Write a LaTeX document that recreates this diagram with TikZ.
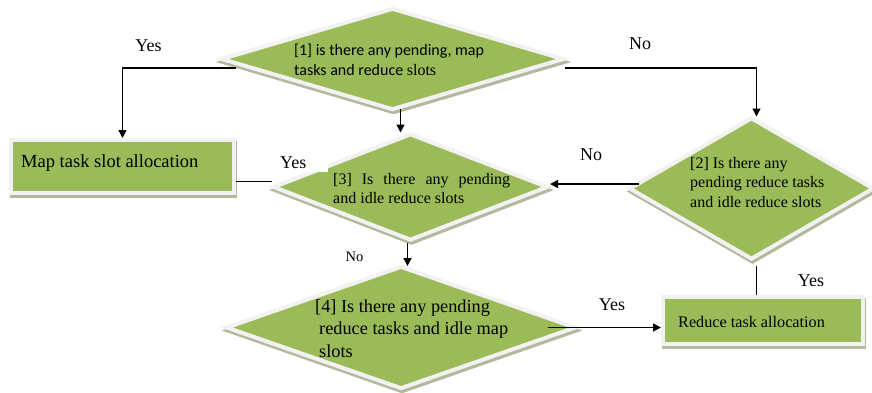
\documentclass[tikz,border=0pt]{standalone}
\usepackage{fontspec}
\setmainfont{Liberation Serif}
\newfontfamily\calibrilike{Carlito}
\usetikzlibrary{calc,shapes.geometric,arrows.meta}

\definecolor{leaf}{HTML}{9BBB59}
\definecolor{rim}{HTML}{F2F2F2}
\definecolor{shade}{HTML}{B3B89E}

\tikzset{
  panel/.style={fill=leaf, draw=rim, line width=4pt, inner sep=0pt,
    preaction={fill=shade, draw=shade, line width=4pt,
               transform canvas={shift={(1pt,-3pt)}}}},
  decision/.style={panel, shape=diamond},
  action/.style={panel, shape=rectangle},
  flow/.style={draw=black, line width=1.3pt},
  arrow/.style={flow, -{Triangle[length=8pt,width=8pt]}},
  lbl/.style={font=\fontsize{18}{20}\selectfont, anchor=base, inner sep=0pt},
  txt/.style={anchor=base west, inner sep=0pt, align=left},
}

\begin{document}
\begin{tikzpicture}[x=1pt,y=-1pt]
\useasboundingbox (0,0) rectangle (872,392);

% decision diamonds and action boxes
\node[decision, minimum width=343pt, minimum height=102pt] (d1) at (392.5,59) {};
\node[decision, minimum width=245pt, minimum height=142pt] (d2) at (751.5,188.5) {};
\node[decision, minimum width=275pt, minimum height=107pt] (d3) at (410.5,187) {};
\node[decision, minimum width=350pt, minimum height=123pt] (d4) at (401,327.5) {};
\node[action, minimum width=223pt, minimum height=53pt] (map) at (122.5,166.5) {};
\node[action, minimum width=200pt, minimum height=47pt] (reduce) at (763,320.5) {};

% texts inside the shapes (anchored at the baseline of their last line)
\node[txt, font=\calibrilike\fontsize{16}{20}\selectfont] (t1) at (294,75)
  {[1] is there any pending, map\\tasks and reduce {\rmfamily slots}};
\node[txt, font=\fontsize{16}{19.5}\selectfont] (t2) at (690,207)
  {[2] Is there any\\pending reduce tasks\\and idle reduce slots};
\node[txt, font=\fontsize{16}{19}\selectfont] (t3) at (333,203)
  {\makebox[177pt][s]{[3] Is there any pending}\\and idle reduce slots};
\node[txt, font=\fontsize{18.3}{22.5}\selectfont] (t4) at (315,357)
  {[4] Is there any pending\\\hspace*{4pt}reduce tasks and idle map\\\hspace*{4pt}slots};
\node[txt, font=\fontsize{18.5}{22}\selectfont] (tm) at (21,167) {Map task slot allocation};
\node[txt, font=\fontsize{16.2}{20}\selectfont] (tr) at (678,327) {Reduce task allocation};

% connectors
\draw[arrow] ($(d1.center)+(-157,9)$) -| (map.north);
\draw[arrow] ($(d1.center)+(172,9)$) -| ($(d2.north)+(5,1)$);
\draw[arrow] ($(d1.south)+(8,-3)$) -- ($(d3.north)+(-10,1)$);
\draw[flow] ($(map.east)+(0,15)$) -- ($(d3.west)+(1,-5.5)$);
\draw[arrow] ($(d2.west)+(12,-4.5)$) -- ($(d3.east)+(0,-3)$);
\draw[arrow] ($(d3.south)+(-3,0)$) -- ($(d4.north)+(6.5,2)$);
\draw[flow] ($(d2.south)+(5,4)$) -- ($(d2.south |- reduce.north)+(5,0)$);
\draw[arrow] ($(d4.east)+(-30,0)$) -- (reduce.west |- d4.east);

% branch labels
\node[lbl] (yes1) at (148.5,51) {Yes};
\node[lbl] (no1) at (640,49) {No};
\node[lbl, anchor=base west, fill=white, inner xsep=3pt, inner ysep=4pt, text width=45pt] (yes2) at (277,168) {Yes};
\node[lbl] (no2) at (591,160) {No};
\node[lbl, font=\fontsize{14.5}{16}\selectfont] (no3) at (354.5,261) {No};
\node[lbl] (yes3) at (811,286) {Yes};
\node[lbl] (yes4) at (612,310) {Yes};
\end{tikzpicture}
\end{document}
